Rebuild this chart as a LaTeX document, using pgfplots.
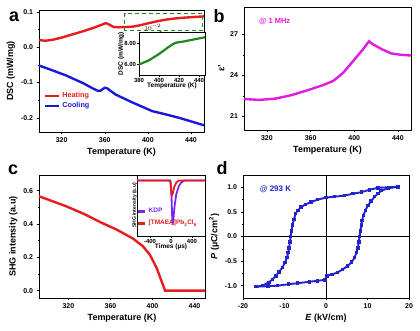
\documentclass[border=0pt]{standalone}
\usepackage{pgfplots}
\pgfplotsset{compat=1.18}
\usepackage{fontspec}
\setmainfont{Liberation Sans}
\usetikzlibrary{arrows.meta}

\definecolor{cred}{RGB}{232,28,28}
\definecolor{cblue}{RGB}{25,25,215}
\definecolor{cgreen}{RGB}{30,135,30}
\definecolor{cmag}{RGB}{225,25,225}
\definecolor{cpur}{RGB}{120,40,240}
\definecolor{cdblue}{RGB}{35,35,205}

\pgfplotsset{
 mystyle/.style={
  scale only axis,
  axis line style={line width=0.6pt},
  tick align=outside,
  xtick pos=bottom, ytick pos=left,
  minor tick num=1,
  major tick length=2.5pt, minor tick length=1.5pt,
  every tick/.style={line width=0.5pt, black},
  /pgf/number format/assume math mode=true,
  tick label style={font=\bfseries\fontsize{7}{8}\selectfont},
  label style={font=\bfseries\fontsize{9}{10}\selectfont},
  xlabel style={yshift=2pt},
  ylabel style={yshift=-1pt},
 },
 inset/.style={
  scale only axis,
  axis line style={line width=0.6pt},
  tick align=outside,
  xtick pos=bottom, ytick pos=left,
  major tick length=1.8pt,
  every tick/.style={line width=0.4pt, black},
  /pgf/number format/assume math mode=true,
  tick label style={font=\bfseries\fontsize{6}{7}\selectfont, inner sep=1pt},
  label style={font=\bfseries\fontsize{6.5}{7}\selectfont, inner sep=1pt},
  axis background/.style={fill=white},
 },
 yfix/.style={yticklabel style={/pgf/number format/fixed, /pgf/number format/fixed zerofill, /pgf/number format/precision=#1}},
}

\begin{document}
\begin{tikzpicture}
\path[use as bounding box] (0,0) rectangle (420bp,331bp);

% ---------------- panel a ----------------
\begin{axis}[mystyle,
  at={(39bp,199bp)}, anchor=south west,
  width=165bp, height=122bp,
  xmin=299, xmax=452, ymin=-0.24, ymax=0.105,
  xtick={320,360,400,440},
  ytick={-0.2,-0.1,0,0.1},
  yfix=1,
  xlabel={Temperature (K)}, ylabel={DSC (mW/mg)},
  legend style={draw=none, fill=none, at={(0.03,0.17)}, anchor=south west,
    font=\bfseries\fontsize{7.3}{8}\selectfont, row sep=-1pt, inner sep=0pt},
  legend cell align=left,
  legend image code/.code={\draw[#1, line width=2.2pt] (0,0) -- (14bp,0);},
]
\addplot[cred, line width=2.4pt] coordinates {
(299,0.020) (305,0.018) (312,0.021) (320,0.027) (330,0.036) (340,0.045)
(350,0.055) (356,0.062) (361,0.068) (364,0.064) (368,0.057) (373,0.056)
(380,0.057) (386,0.058) (393,0.062) (401,0.068) (410,0.074) (417,0.078)
(425,0.081) (432,0.083) (442,0.085) (452,0.087)};
\addlegendentry{\textcolor{cred}{Heating}}
\addplot[cblue, line width=2.4pt] coordinates {
(299,-0.052) (310,-0.064) (324,-0.080) (340,-0.102) (349,-0.117) (354,-0.124)
(356,-0.123) (360,-0.115) (362,-0.116) (370,-0.134) (386,-0.157) (404,-0.181)
(415,-0.189) (429,-0.200) (452,-0.221)};
\addlegendentry{\textcolor{cblue}{Cooling}}
\draw[cgreen, line width=0.9pt, dash pattern=on 4pt off 3pt]
  (axis cs:378,0.047) rectangle (axis cs:451,0.094);
\draw[cgreen, line width=1pt, -{Stealth[length=4pt,width=4pt]}]
  (axis cs:410.5,0.047) -- (axis cs:422.8,0.019);
\end{axis}

% inset a
\begin{axis}[inset,
  at={(139bp,256bp)}, anchor=south west,
  width=66bp, height=43bp,
  xmin=380, xmax=446, ymin=0.05, ymax=0.091,
  xtick={380,400,420,440}, ytick={0.06,0.08},
  yfix=2,
  xlabel={Temperature (K)}, ylabel={DSC (mW/mg)},
  xlabel style={yshift=2pt}, ylabel style={yshift=-2pt},
]
\addplot[cgreen, line width=2.2pt] coordinates {
(380,0.060) (385,0.062) (390,0.064) (395,0.067) (400,0.070) (405,0.0735)
(410,0.077) (415,0.080) (418,0.081) (425,0.082) (430,0.083) (438,0.0845) (446,0.086)};
\end{axis}

% ---------------- panel b ----------------
\begin{axis}[mystyle,
  at={(244bp,201bp)}, anchor=south west,
  width=167bp, height=123bp,
  xmin=299, xmax=452, ymin=20, ymax=29,
  xtick={320,360,400,440}, ytick={21,24,27},
  xlabel={Temperature (K)}, ylabel={ε’},
]
\addplot[cmag, line width=2.4pt] coordinates {
(299,22.27) (313,22.2) (328,22.3) (342.5,22.55) (357,22.9) (372,23.3)
(381,23.6) (390,24.2) (399,25.05) (408,25.9) (413.6,26.5) (416.5,26.3)
(425.5,25.9) (434,25.6) (443,25.5) (452,25.45)};
\node[anchor=west, text=cmag, font=\bfseries\fontsize{7.5}{8}\selectfont]
  at (rel axis cs:0.07,0.88) {@ 1 MHz};
\end{axis}

% ---------------- panel c ----------------
\begin{axis}[mystyle,
  at={(39bp,33bp)}, anchor=south west,
  width=166bp, height=123bp,
  xmin=292, xmax=450, ymin=-0.044, ymax=0.694,
  xtick={320,360,400,440}, ytick={0,0.2,0.4,0.6},
  yfix=1,
  xlabel={Temperature (K)}, ylabel={SHG intensity (a.u)},
]
\addplot[cred, line width=2.4pt] coordinates {
(292,0.566) (300,0.548) (318,0.506) (335,0.46) (350,0.412) (366,0.366)
(381.6,0.312) (391,0.266) (397.5,0.216) (404,0.136) (408.7,0.056) (412,0.0)
(430,0.0) (450,0.0)};
\end{axis}

% inset c
\begin{axis}[inset,
  at={(137bp,95bp)}, anchor=south west,
  width=68bp, height=61bp,
  xmin=-650, xmax=650, ymin=0, ymax=1.1,
  xtick={-400,0,400}, ytick=\empty,
  xlabel={Times (µs)}, ylabel={SHG intensity (a.u)},
  ylabel style={font=\bfseries\fontsize{5}{6}\selectfont, yshift=-3pt},
  xlabel style={yshift=2pt},
  legend style={draw=none, fill=none, at={(0.0,0.12)}, anchor=south west,
    font=\bfseries\fontsize{6.5}{7}\selectfont, row sep=2pt, inner sep=0pt},
  legend cell align=left,
  legend image code/.code={\draw[#1, line width=2.5pt] (0,0) -- (7bp,0);},
]
\addplot[cpur, line width=1.8pt] coordinates {
(-650,1.0) (-10,1.0) (10,0.7) (20,0.4) (30,0.2) (45,0.3) (70,0.55) (100,0.75)
(150,0.9) (200,0.97) (260,1.0) (650,1.0)};
\addlegendentry{\textcolor{cpur}{KDP}}
\addplot[cred, line width=1.8pt] coordinates {
(-650,1.0) (-30,1.0) (-10,0.97) (0,0.85) (10,0.76) (20,0.74) (35,0.77) (60,0.88)
(100,0.96) (150,1.0) (650,1.0)};
\addlegendentry{\textcolor{cred}{[TMAEA]Pb\textsubscript{2}Cl\textsubscript{6}}}
\end{axis}

% ---------------- panel d ----------------
\begin{axis}[mystyle,
  at={(243bp,33bp)}, anchor=south west,
  width=166bp, height=123bp,
  xmin=-20, xmax=20, ymin=-1.25, ymax=1.25,
  xtick={-20,-10,0,10,20}, ytick={-1,-0.5,0,0.5,1},
  yfix=1,
  xlabel={\textit{E} (kV/cm)}, ylabel={\textit{P} (µC/cm\textsuperscript{2})},
]
\draw[black, line width=0.6pt] (axis cs:0,-1.25) -- (axis cs:0,1.25);
\draw[black, line width=0.6pt] (axis cs:-20,0) -- (axis cs:20,0);
\addplot[cdblue, line width=1.9pt, mark=square*, mark size=0.8pt] coordinates {
(17.3,1.01) (15,1.0) (12.5,0.99) (10.5,0.95) (8.5,0.9) (6.5,0.87) (4.4,0.83)
(2,0.81) (0,0.79) (-2,0.75) (-3.6,0.70) (-5,0.65) (-6,0.6) (-6.8,0.53) (-7.3,0.47)
(-7.7,0.35) (-8.1,0.23) (-8.3,0.11) (-8.5,0) (-8.7,-0.11) (-8.9,-0.23) (-9.1,-0.33)
(-9.4,-0.43) (-9.9,-0.53) (-10.5,-0.63) (-11.3,-0.72) (-12.1,-0.8) (-12.9,-0.87)
(-13.7,-0.93) (-15.3,-1.0) (-16.9,-1.02)};
\addplot[cdblue, line width=1.9pt, mark=square*, mark size=0.8pt] coordinates {
(-16.9,-1.02) (-14,-1.01) (-11.7,-1.0) (-9,-0.97) (-6.9,-0.95) (-4,-0.92)
(-2,-0.9) (-0.2,-0.88) (0.2,-0.8) (1.5,-0.77) (2.8,-0.73) (4,-0.67) (5.2,-0.6)
(6.2,-0.52) (6.9,-0.43) (7.3,-0.33) (7.7,-0.23) (7.9,-0.11) (8.1,0) (8.3,0.11)
(8.5,0.23) (8.7,0.33) (9,0.43) (9.5,0.53) (10.1,0.63) (10.9,0.72) (11.7,0.81)
(12.5,0.87) (13.3,0.93) (14.9,0.98) (17.3,1.01)};
\node[anchor=west, text=cdblue, font=\bfseries\fontsize{8}{9}\selectfont]
  at (rel axis cs:0.08,0.886) {@ 293 K};
\end{axis}

% panel letters
\node[anchor=base, font=\bfseries\fontsize{18}{18}\selectfont] at (14bp,309bp) {a};
\node[anchor=base, font=\bfseries\fontsize{18}{18}\selectfont] at (219bp,308bp) {b};
\node[anchor=base, font=\bfseries\fontsize{18}{18}\selectfont] at (13bp,156bp) {c};
\node[anchor=base, font=\bfseries\fontsize{18}{18}\selectfont] at (222bp,156bp) {d};
\end{tikzpicture}
\end{document}
